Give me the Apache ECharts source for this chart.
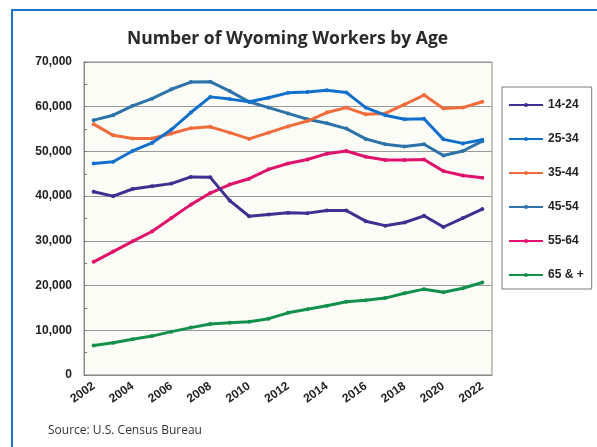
<!DOCTYPE html>
<html lang="en">
<head>
<meta charset="UTF-8">
<title>Wyoming Workers by Age</title>
<script src="https://cdn.jsdelivr.net/npm/echarts@6/dist/echarts.min.js"></script>
<style>
    * { padding: 0; margin: 0; }
    body { background: #fff; width: 597px; height: 447px; overflow: hidden; position: relative; }
    .frame {
        position: absolute; left: 11px; top: 9px; width: 600px; height: 450px;
        border-left: 2px solid #1b72c8; border-top: 2px solid #1b72c8;
    }
    #chart { position: absolute; left: 0; top: 0; width: 597px; height: 447px; }
</style>
</head>
<body>
<div class="frame"></div>
<div id="chart"></div>
<script>
    var years = ['2002','2003','2004','2005','2006','2007','2008','2009','2010','2011','2012',
                 '2013','2014','2015','2016','2017','2018','2019','2020','2021','2022'];

    var age1424 = [41000, 40000, 41600, 42200, 42800, 44300, 44200, 39000, 35500, 35900, 36300,
                   36200, 36800, 36800, 34400, 33400, 34100, 35600, 33100, 35100, 37100];
    var age2534 = [47300, 47700, 50100, 51900, 54900, 58700, 62200, 61700, 61100, 62000, 63100,
                   63300, 63700, 63200, 59800, 58100, 57200, 57300, 52700, 51800, 52600];
    var age3544 = [56100, 53600, 52900, 52900, 54000, 55200, 55500, 54200, 52800, 54200, 55600,
                   56800, 58700, 59800, 58300, 58500, 60500, 62600, 59600, 59800, 61100];
    var age4554 = [57000, 58100, 60200, 61800, 63900, 65500, 65600, 63500, 61100, 59800, 58500,
                   57200, 56300, 55100, 52800, 51600, 51100, 51600, 49100, 50100, 52300];
    var age5564 = [25300, 27600, 29900, 32100, 35100, 38100, 40700, 42600, 43900, 46000, 47300,
                   48200, 49500, 50100, 48800, 48100, 48100, 48200, 45600, 44600, 44100];
    var age65up = [6600, 7200, 8000, 8700, 9700, 10600, 11400, 11700, 11900, 12600, 13900,
                   14700, 15500, 16400, 16700, 17200, 18300, 19200, 18500, 19400, 20700];

    var seriesNames = ['14-24', '25-34', '35-44', '45-54', '55-64', '65 & +'];
    var seriesData = [age1424, age2534, age3544, age4554, age5564, age65up];
    var colors = ['#3c3090', '#1170cc', '#f06c3c', '#2d72a8', '#e0136c', '#13914c'];

    var chart = echarts.init(document.getElementById('chart'));
    var option = {
        animation: false,
        color: colors,
        title: [{
            text: 'Number of Wyoming Workers by Age',
            left: 122,
            top: 25,
            textStyle: { fontFamily: 'Open Sans', fontWeight: 'bold', fontSize: 17.5, color: '#2a2a2a' }
        }, {
            text: 'Source: U.S. Census Bureau',
            left: 43,
            top: 420,
            textStyle: { fontFamily: 'Open Sans', fontWeight: 'normal', fontSize: 12, color: '#333' }
        }],
        legend: {
            orient: 'vertical',
            left: 502,
            top: 87,
            padding: [12, 8, 8, 6],
            itemWidth: 34,
            itemHeight: 5,
            itemGap: 22,
            borderColor: '#7a7a7a',
            borderWidth: 1,
            backgroundColor: '#fff',
            textStyle: { fontFamily: 'Liberation Sans', fontWeight: 'bold', fontSize: 12, color: '#222' },
            data: seriesNames
        },
        grid: {
            left: 84, right: 105, top: 62, bottom: 72,
            show: true,
            backgroundColor: '#fbfcf6',
            borderColor: '#8a8a8a',
            borderWidth: 1
        },
        xAxis: {
            type: 'category',
            data: years,
            axisLine: { lineStyle: { color: '#8a8a8a' } },
            axisTick: { inside: true, length: 3, lineStyle: { color: '#777' } },
            axisLabel: {
                interval: 1,
                rotate: 35,
                margin: 10,
                fontFamily: 'Liberation Sans', fontWeight: 'bold', fontSize: 12, color: '#222'
            }
        },
        yAxis: {
            type: 'value',
            min: 0,
            max: 70000,
            interval: 10000,
            axisLine: { show: true, lineStyle: { color: '#8a8a8a' } },
            axisTick: { show: true, inside: true, length: 3, lineStyle: { color: '#777' } },
            minorTick: { show: true, splitNumber: 2, length: 3, lineStyle: { color: '#777' } },
            splitLine: { lineStyle: { color: '#9a9a9a', width: 1 } },
            axisLabel: {
                margin: 12,
                formatter: function (v) { return v.toLocaleString('en-US'); },
                fontFamily: 'Liberation Sans', fontWeight: 'bold', fontSize: 12, color: '#222'
            }
        },
        series: seriesNames.map(function (name, i) {
            return {
                name: name,
                type: 'line',
                data: seriesData[i],
                symbol: 'circle',
                symbolSize: 4,
                lineStyle: { width: 3 },
                z: 10 - i
            };
        })
    };
    chart.setOption(option);
</script>
</body>
</html>
